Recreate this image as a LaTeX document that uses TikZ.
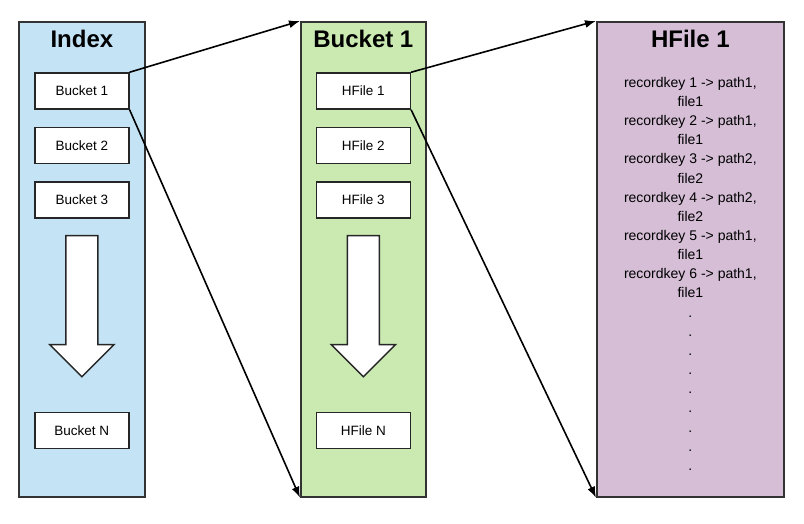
\documentclass[tikz,border=0pt]{standalone}
\usepackage{fontspec}
\setmainfont{Liberation Sans}
\usetikzlibrary{arrows.meta, positioning}

\definecolor{indexblue}{RGB}{196,228,246}
\definecolor{bucketgreen}{RGB}{202,234,178}
\definecolor{hfilepurple}{RGB}{213,190,214}

\begin{document}
\begin{tikzpicture}[x=1pt,y=1pt,node distance=17pt,
    panel/.style={draw=black!80, line width=1.7pt, minimum height=475pt, anchor=north west, inner sep=0pt},
    title/.style={font=\bfseries\fontsize{24}{28}\selectfont, inner sep=0pt},
    entry/.style={draw=black!85, line width=1.5pt, fill=white, minimum width=94pt, minimum height=36pt, inner sep=0pt, font=\fontsize{13.5}{16}\selectfont},
    bigdown/.style={draw=black!85, line width=1.5pt, fill=white},
    link/.style={-{Latex[length=11pt,width=8pt]}, line width=1.6pt}]
   \useasboundingbox[fill=white] (0,0) rectangle (804,524);

   % Panels
   \node[panel, fill=indexblue, minimum width=126pt] (index) at (18,503) {};
   \node[panel, fill=bucketgreen, minimum width=125pt] (bucket) at (300,503) {};
   \node[panel, fill=hfilepurple, minimum width=187pt] (hfile) at (596,503) {};

   \node[title] (itlt) at ([yshift=-17.5pt]index.north) {Index};
   \node[title] (btlt) at ([yshift=-17.5pt]bucket.north) {Bucket 1};
   \node[title] (htlt) at ([yshift=-17.5pt]hfile.north) {HFile 1};

   % Index column
   \node[entry] (b1) at ([yshift=-70pt]index.north) {Bucket 1};
   \node[entry] (b2) [below=of b1] {Bucket 2};
   \node[entry] (b3) [below=of b2] {Bucket 3};
   \node[entry] (bn) [below=193pt of b3] {Bucket N};
   \draw[bigdown] ([yshift=-17pt]b3.south) ++(-16,0) -- ++(32,0) -- ++(0,-109) -- ++(16,0)
       -- ++(-32,-32) -- ++(-32,32) -- ++(16,0) -- cycle;

   % Bucket column
   \node[entry] (h1) at ([yshift=-70pt]bucket.north) {HFile 1};
   \node[entry] (h2) [below=of h1] {HFile 2};
   \node[entry] (h3) [below=of h2] {HFile 3};
   \node[entry] (hn) [below=193pt of h3] {HFile N};
   \draw[bigdown] ([yshift=-17pt]h3.south) ++(-16,0) -- ++(32,0) -- ++(0,-109) -- ++(16,0)
       -- ++(-32,-32) -- ++(-32,32) -- ++(16,0) -- cycle;

   % HFile contents
   \node[anchor=north, inner sep=0pt, align=center, font=\fontsize{14}{19.15}\selectfont] (recs)
       at ([yshift=-56pt]hfile.north) {
       recordkey 1 -> path1,\\ file1\\
       recordkey 2 -> path1,\\ file1\\
       recordkey 3 -> path2,\\ file2\\
       recordkey 4 -> path2,\\ file2\\
       recordkey 5 -> path1,\\ file1\\
       recordkey 6 -> path1,\\ file1\\
       .\\ .\\ .\\ .\\ .\\ .\\ .\\ .\\ .};

    \path[link]
        % From Bucket 1
        (b1.north east) edge (bucket.north west)
        (b1.south east) edge (bucket.south west)
        % From HFile 1
        (h1.north east) edge (hfile.north west)
        (h1.south east) edge (hfile.south west);
\end{tikzpicture}
\end{document}
